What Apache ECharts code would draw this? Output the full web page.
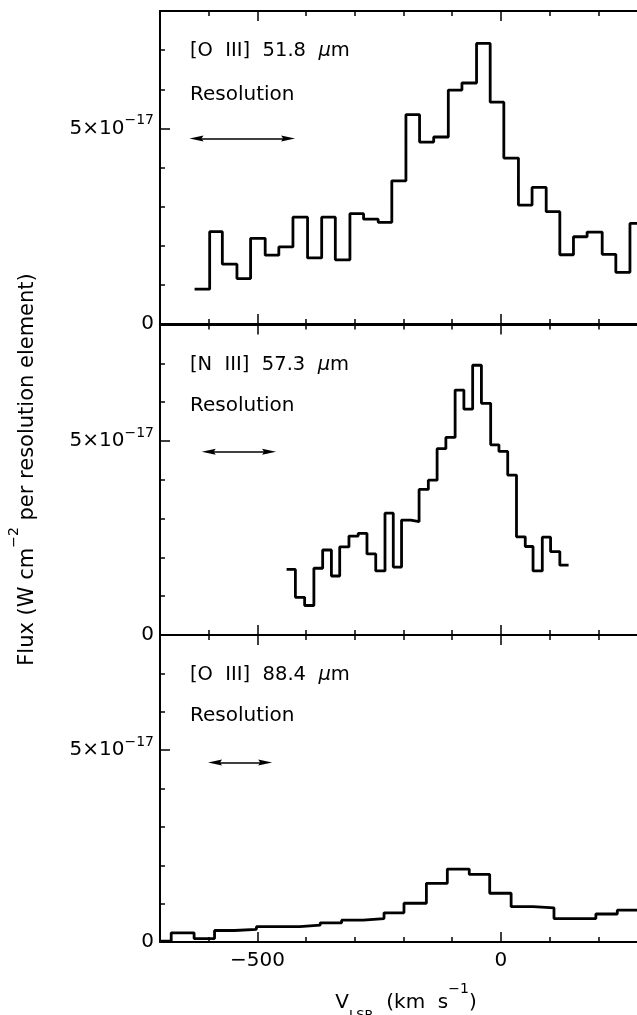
<!DOCTYPE html>
<html>
<head>
<meta charset="utf-8">
<title>Line profiles</title>
<script src="https://cdn.jsdelivr.net/npm/echarts@6/dist/echarts.min.js"></script>
<style>
  html, body { margin: 0; padding: 0; background: #fff; }
  #main { width: 637px; height: 1015px; }
</style>
</head>
<body>
<div id="main"></div>
<script>
// bin edges in km/s, flux per bin in units of 1e-17 W cm^-2
const edgesO3_518 = [-629, -598, -572, -542, -514, -484, -456, -427, -397, -368, -340, -310, -282, -252, -224, -195,
  -167, -138, -108, -80, -50, -22, 6, 36, 64, 93, 121, 149, 177, 208, 236, 265, 294];
const fluxO3_518 = [0.89, 2.36, 1.53, 1.16, 2.19, 1.76, 1.97, 2.73, 1.69, 2.73, 1.64, 2.82, 2.68, 2.60, 3.66, 5.35,
  4.65, 4.78, 5.98, 6.16, 7.17, 5.67, 4.24, 3.04, 3.49, 2.87, 1.77, 2.23, 2.35, 1.78, 1.32, 2.57];

const edgesN3_573 = [-440, -422, -403, -384, -366, -348, -331, -312, -293, -275, -257, -238, -221, -204, -185, -168,
  -149, -131, -113, -94, -76, -58, -40, -21, -4, 14, 32, 50, 66, 85, 102, 121, 139];
const fluxN3_573 = [1.69, 0.97, 0.76, 1.72, 2.19, 1.52, 2.27, 2.55, 2.62, 2.09, 1.65, 3.14, 1.75, 2.96, 2.92, 3.75,
  3.99, 4.80, 5.09, 6.31, 5.82, 6.95, 5.97, 4.90, 4.73, 4.12, 2.53, 2.28, 1.65, 2.52, 2.15, 1.80];

const edgesO3_884 = [-700, -677, -630, -588, -547, -502, -413, -371, -327, -283, -240, -199, -153, -110, -65, -23,
  21, 66, 109, 195, 239, 283];
const fluxO3_884 = [0.02, 0.24, 0.09, 0.30, 0.33, 0.40, 0.44, 0.50, 0.57, 0.61, 0.76, 1.01, 1.53, 1.90, 1.76, 1.27,
  0.92, 0.89, 0.61, 0.73, 0.83];

const lineNames = ['[O  III]  51.8', '[N  III]  57.3', '[O  III]  88.4'];
// resolution arrows: start, end (km/s) and height (1e-17)
const resFrom = [-625, -600, -587];
const resTo = [-437, -476, -484];
const resLevel = [4.74, 4.72, 4.68];

const xTicks = [-500, 0];
const yTicks = [0, 5];

const X_MIN = -700, X_MAX = 300;
const Y_MIN = 0, Y_MAX = 8;

const panels = [
  { edges: edgesO3_518, flux: fluxO3_518 },
  { edges: edgesN3_573, flux: fluxN3_573 },
  { edges: edgesO3_884, flux: fluxO3_884 }
];

// layout
const gridTop = [11, 324.5, 635];
const gridHeight = [313, 310.5, 307];
const nameY = [51, 365, 675];
const resTextY = [94.5, 405.5, 715.5];

const FONT = 'DejaVu Sans';
const black = '#000';
const arrowHead = 'path://M3,0 L6,14 L3,12 L0,14 Z';

const chart = echarts.init(document.getElementById('main'));

const grid = [], xAxis = [], yAxis = [], series = [], graphic = [];

gridTop.forEach((top, g) => {
  grid.push({ left: 160, width: 487, top: top, height: gridHeight[g], outerBoundsMode: 'none', containLabel: false });
  const last = g === gridTop.length - 1;

  ['bottom', 'top'].forEach(pos => {
    xAxis.push({
      gridIndex: g, type: 'value', position: pos, min: X_MIN, max: X_MAX,
      axisLine: { show: true, onZero: false, lineStyle: { color: black, width: 2 } },
      axisTick: { show: true, inside: true, length: 10, customValues: xTicks, lineStyle: { color: black, width: 1.5 } },
      axisLabel: {
        show: pos === 'bottom' && last, customValues: xTicks, margin: 9,
        color: black, fontFamily: FONT, fontSize: 20,
        formatter: v => (v < 0 ? '\u2212' + Math.abs(v) : String(v))
      },
      splitLine: { show: false }
    });
    xAxis.push({
      gridIndex: g, type: 'value', position: pos, min: X_MIN, max: X_MAX, interval: 100,
      axisLine: { show: false, onZero: false },
      axisTick: { show: true, inside: true, length: 5, lineStyle: { color: black, width: 1.5 } },
      axisLabel: { show: false },
      splitLine: { show: false }
    });
  });

  ['left', 'right'].forEach(pos => {
    yAxis.push({
      gridIndex: g, type: 'value', position: pos, min: Y_MIN, max: Y_MAX,
      axisLine: { show: true, onZero: false, lineStyle: { color: black, width: 2 } },
      axisTick: { show: true, inside: true, length: 10, customValues: yTicks, lineStyle: { color: black, width: 1.5 } },
      axisLabel: {
        show: pos === 'left', customValues: yTicks, margin: 6, color: black,
        fontFamily: FONT, fontSize: 20,
        formatter: v => (v === 0 ? '{n|0}' : '{n|' + v + '\u00d710}{e|\u221217}'),
        rich: {
          n: { fontFamily: FONT, fontSize: 20, lineHeight: 30, color: black },
          e: { fontFamily: FONT, fontSize: 14, lineHeight: 12, verticalAlign: 'top', color: black }
        }
      },
      splitLine: { show: false }
    });
    yAxis.push({
      gridIndex: g, type: 'value', position: pos, min: Y_MIN, max: Y_MAX, interval: 1,
      axisLine: { show: false, onZero: false },
      axisTick: { show: true, inside: true, length: 5, lineStyle: { color: black, width: 1.5 } },
      axisLabel: { show: false },
      splitLine: { show: false }
    });
  });

  const p = panels[g];
  series.push({
    type: 'line', xAxisIndex: g * 4, yAxisIndex: g * 4,
    step: 'end', showSymbol: false, symbol: 'none', color: black,
    lineStyle: { color: black, width: 2.8 },
    data: p.edges.map((v, i) => [v, p.flux[Math.min(i, p.flux.length - 1)]]),
    markLine: {
      silent: true, animation: false,
      symbol: [arrowHead, arrowHead], symbolSize: 14, symbolKeepAspect: true,
      itemStyle: { color: black },
      lineStyle: { color: black, width: 1.6, type: 'solid' },
      label: { show: false },
      emphasis: { disabled: true },
      data: [[{ coord: [resFrom[g], resLevel[g]] }, { coord: [resTo[g], resLevel[g]] }]]
    }
  });

  graphic.push({
    type: 'text', x: 190, y: nameY[g],
    style: {
      text: '{r|' + lineNames[g] + '  }{mu|\u03bc}{r|m}',
      align: 'left', verticalAlign: 'middle', fill: black, fontFamily: FONT, fontSize: 19.5,
      rich: {
        r: { fontFamily: FONT, fontSize: 19.5, lineHeight: 22, fill: black },
        mu: { fontFamily: FONT, fontSize: 19.5, fontStyle: 'italic', lineHeight: 22, fill: black }
      }
    }
  });
  graphic.push({
    type: 'text', x: 190, y: resTextY[g],
    style: { text: 'Resolution', align: 'left', verticalAlign: 'middle', fill: black, fontFamily: FONT, fontSize: 20 }
  });
});

// axis titles
graphic.push({
  type: 'text', x: 406, y: 1002.5,
  style: {
    text: '{a|V}{sub|LSR}{a|  (km  s}{sup|\u22121}{a|)}',
    align: 'center', verticalAlign: 'middle', fill: black, fontFamily: FONT, fontSize: 20,
    rich: {
      a: { fontFamily: FONT, fontSize: 20, lineHeight: 40, fill: black },
      sub: { fontFamily: FONT, fontSize: 13, lineHeight: 13, verticalAlign: 'bottom', fill: black },
      sup: { fontFamily: FONT, fontSize: 14, lineHeight: 23, verticalAlign: 'top', fill: black }
    }
  }
});
graphic.push({
  type: 'text', x: 27.5, y: 469.5, rotation: Math.PI / 2,
  style: {
    text: '{a|Flux (W cm}{sup|\u22122}{a| per resolution element)}',
    align: 'center', verticalAlign: 'middle', fill: black, fontFamily: FONT, fontSize: 21,
    rich: {
      a: { fontFamily: FONT, fontSize: 21, lineHeight: 40, fill: black },
      sup: { fontFamily: FONT, fontSize: 14, lineHeight: 12, verticalAlign: 'top', fill: black }
    }
  }
});

chart.setOption({
  backgroundColor: '#fff',
  animation: false,
  grid: grid,
  xAxis: xAxis,
  yAxis: yAxis,
  series: series,
  graphic: graphic
});
</script>
</body>
</html>
